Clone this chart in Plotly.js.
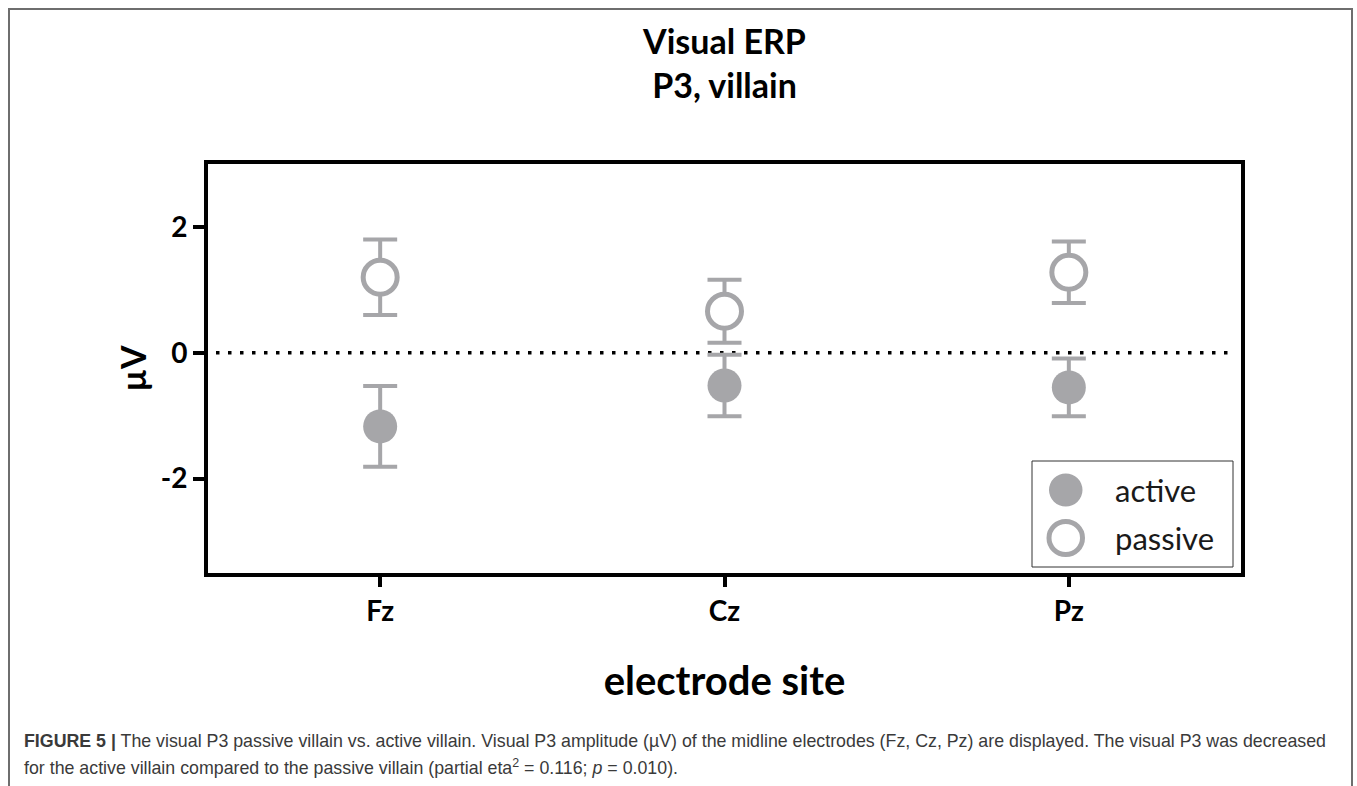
<!DOCTYPE html>
<html>
<head>
<meta charset="utf-8">
<script src="https://cdn.plot.ly/plotly-3.0.1.min.js"></script>
<style>html,body{margin:0;padding:0;background:#fff;}#chart{width:1357px;height:786px;}</style>
</head>
<body>
<div id="chart"></div>
<script>
// ---- data ----
const sites = ['Fz', 'Cz', 'Pz'];
const activeMean = [-1.17, -0.52, -0.55];
const activeErr = [0.64, 0.49, 0.46];
const passiveMean = [1.20, 0.66, 1.28];
const passiveErr = [0.60, 0.50, 0.49];
const yTicks = [-2, 0, 2];
const seriesNames = ['active', 'passive'];
const chartTitle = 'Visual ERP<br>P3, villain';
const xTitle = 'electrode site';
const yTitle = 'µV';
const captionLine1 = '<b>FIGURE 5 |</b> The visual P3 passive villain vs. active villain. Visual P3 amplitude (µV) of the midline electrodes (Fz, Cz, Pz) are displayed. The visual P3 was decreased';
const captionLine2 = 'for the active villain compared to the passive villain (partial eta<sup>2</sup> = 0.116; <i>p</i> = 0.010).';

// ---- layout geometry ----
const L = 208, T = 164, W = 1033, H = 409;
const px = x => (x - L) / W;
const py = y => (T + H - y) / H;
const grey = '#a6a6a9';
const font = 'Lato, "Open Sans", sans-serif';
const capFont = '"Liberation Sans", Arial, sans-serif';

const traces = [
  {
    type: 'scatter', mode: 'markers', name: seriesNames[0], x: sites, y: activeMean,
    error_y: {type: 'data', array: activeErr, visible: true, color: grey, thickness: 4, width: 17},
    marker: {symbol: 'circle', size: 34, color: grey, line: {width: 0}},
    showlegend: false, cliponaxis: false
  },
  {
    type: 'scatter', mode: 'markers', name: seriesNames[1], x: sites, y: passiveMean,
    error_y: {type: 'data', array: passiveErr, visible: true, color: grey, thickness: 4, width: 17},
    marker: {symbol: 'circle', size: 34, color: '#ffffff', line: {width: 5, color: grey}},
    showlegend: false, cliponaxis: false
  }
];

const shapes = [
  // zero reference line (dotted)
  {type: 'line', xref: 'paper', yref: 'y', x0: px(216), x1: px(1233), y0: 0, y1: 0,
   line: {color: '#000', width: 3.5, dash: '3.5px,8.5px'}, layer: 'below'},
  // legend box
  {type: 'rect', xref: 'paper', yref: 'paper', x0: px(1032), x1: px(1233), y0: py(567), y1: py(461),
   line: {color: '#333', width: 1}, fillcolor: 'rgba(255,255,255,1)'},
  // legend symbols
  {type: 'circle', xref: 'paper', yref: 'paper', x0: px(1049), x1: px(1082.5), y0: py(506.5), y1: py(473.5),
   line: {width: 0}, fillcolor: grey},
  {type: 'circle', xref: 'paper', yref: 'paper', x0: px(1049), x1: px(1082.5), y0: py(554.5), y1: py(521.5),
   line: {width: 5, color: grey}, fillcolor: '#fff'},
  // figure frame
  {type: 'rect', xref: 'paper', yref: 'paper', x0: px(9), x1: px(1352), y0: py(800), y1: py(9),
   line: {color: '#6e6e6e', width: 2}, fillcolor: 'rgba(0,0,0,0)', layer: 'below'}
];

const annotations = [
  {xref: 'paper', yref: 'paper', x: px(1113), y: py(490), xanchor: 'left', yanchor: 'middle', showarrow: false,
   text: seriesNames[0], font: {family: font, size: 31, color: '#1a1a1a'}},
  {xref: 'paper', yref: 'paper', x: px(1113), y: py(538), xanchor: 'left', yanchor: 'middle', showarrow: false,
   text: seriesNames[1], font: {family: font, size: 31, color: '#1a1a1a'}},
  {xref: 'paper', yref: 'paper', x: px(22), y: py(741), xanchor: 'left', yanchor: 'middle', showarrow: false,
   text: captionLine1, font: {family: capFont, size: 17.8, color: '#3a3a3a'}},
  {xref: 'paper', yref: 'paper', x: px(22), y: py(767), xanchor: 'left', yanchor: 'middle', showarrow: false,
   text: captionLine2, font: {family: capFont, size: 17.8, color: '#3a3a3a'}}
];

const layout = {
  width: 1357, height: 786,
  margin: {l: L, r: 1357 - L - W, t: T, b: 786 - T - H, pad: 0},
  paper_bgcolor: '#fff', plot_bgcolor: '#fff',
  showlegend: false,
  title: {text: chartTitle, x: 0.5, xref: 'paper', xanchor: 'center', y: 1 - 54 / 786, yref: 'container', yanchor: 'middle',
          font: {family: font, size: 34, weight: 700, color: '#000'}},
  xaxis: {
    type: 'category', range: [-0.5, 2.5], showgrid: false, zeroline: false,
    showline: true, linecolor: '#000', linewidth: 4, mirror: true,
    ticks: 'outside', ticklen: 10, tickwidth: 4, tickcolor: '#000',
    tickfont: {family: font, size: 28, weight: 700, color: '#000'},
    title: {text: xTitle, font: {family: font, size: 40, weight: 700, color: '#000'}, standoff: 42},
    fixedrange: true
  },
  yaxis: {
    range: [-3.5, 3], showgrid: false, zeroline: false,
    showline: true, linecolor: '#000', linewidth: 4, mirror: true,
    tickvals: yTicks, ticktext: yTicks.map(String),
    ticks: 'outside', ticklen: 11, tickwidth: 4, tickcolor: '#000',
    tickfont: {family: font, size: 28, weight: 700, color: '#000'},
    title: {text: yTitle, font: {family: font, size: 34, weight: 700, color: '#000'}, standoff: 5},
    fixedrange: true
  },
  shapes: shapes,
  annotations: annotations
};

Plotly.newPlot('chart', traces, layout, {displayModeBar: false, staticPlot: true});
</script>
</body>
</html>
